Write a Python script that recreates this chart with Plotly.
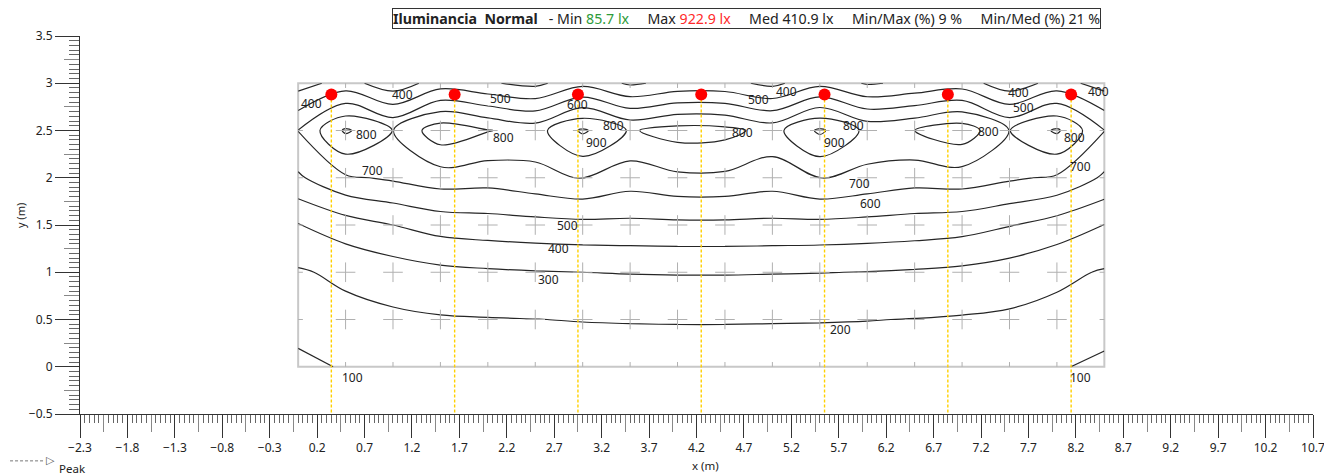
import plotly.graph_objects as go

# ---------------- data ----------------
grid_x = [0.0, 0.5, 1.0, 1.5, 2.0, 2.5, 3.0, 3.5, 4.0, 4.5, 5.0, 5.5, 6.0, 6.5, 7.0, 7.5, 8.0, 8.5]
grid_y = [0.0, 0.5, 1.0, 1.5, 2.0, 2.5, 3.0]

# illuminance (lx) per grid row
lux_y00 = [86, 105, 125, 135, 140, 143, 146, 148, 149, 149, 148, 147, 145, 142, 137, 128, 105, 88]
lux_y05 = [122, 170, 182, 192, 196, 199, 203, 205, 206, 206, 205, 204, 202, 198, 192, 184, 170, 124]
lux_y10 = [190, 220, 250, 275, 287, 295, 300, 304, 306, 306, 304, 302, 298, 290, 278, 255, 222, 192]
lux_y15 = [294, 353, 400, 440, 455, 465, 472, 475, 478, 478, 475, 472, 465, 455, 440, 405, 355, 298]
lux_y20 = [485, 585, 615, 650, 640, 670, 705, 650, 680, 680, 650, 705, 670, 640, 650, 615, 585, 485]
lux_y25 = [602, 815, 698, 865, 805, 760, 915, 790, 840, 830, 762, 918, 775, 800, 862, 698, 815, 602]
lux_y30 = [360, 440, 340, 450, 410, 375, 470, 385, 430, 430, 375, 470, 390, 420, 450, 340, 440, 360]

lum_x = [0.35, 1.65, 2.95, 4.25, 5.55, 6.85, 8.15]
lum_y = 2.88

room_w = 8.5
room_h = 3.0

label_text = ["400", "400", "500", "600", "800", "800", "800", "900", "500", "400", "800", "800", "900",
              "800", "400", "500", "400", "800", "700", "700", "700", "600", "500", "400", "300", "200",
              "100", "100"]
label_x = [0.14, 1.10, 2.13, 2.95, 0.72, 2.16, 3.32, 3.15, 4.85, 5.15, 4.69, 5.85, 5.65,
           7.28, 7.60, 7.65, 8.44, 8.19, 0.78, 5.92, 8.25, 6.03, 2.84, 2.74, 2.64, 5.72,
           0.57, 8.25]
label_y = [2.79, 2.88, 2.84, 2.78, 2.46, 2.43, 2.55, 2.37, 2.83, 2.91, 2.48, 2.55, 2.37,
           2.49, 2.90, 2.74, 2.91, 2.43, 2.08, 1.94, 2.12, 1.73, 1.50, 1.25, 0.92, 0.39,
           -0.11, -0.11]

x_range = [-2.3, 10.7]
y_range = [-0.5, 3.5]

FONT = "Noto Sans"
z = [lux_y00, lux_y05, lux_y10, lux_y15, lux_y20, lux_y25, lux_y30]

fig = go.Figure()

# isolux contours
fig.add_trace(go.Contour(
    x=grid_x, y=grid_y, z=z,
    contours=dict(start=100, end=900, size=100, coloring="none", showlabels=False),
    line=dict(color="#262626", width=1.2, smoothing=1.0),
    showscale=False, hoverinfo="skip",
))

# calculation grid crosses
cx, cy = [], []
for yy in grid_y[1:-1]:
    for xx in grid_x[1:-1]:
        cx.append(xx)
        cy.append(yy)
fig.add_trace(go.Scatter(
    x=cx, y=cy, mode="markers",
    marker=dict(symbol="cross-thin", size=14, line=dict(color="#b0b0b0", width=1)),
    hoverinfo="skip", showlegend=False,
))

# edge half ticks
tl = 0.05
ex, ey = [], []
for xx in grid_x[1:-1]:
    ex += [xx, xx, None, xx, xx, None]
    ey += [0, tl, None, room_h, room_h - tl, None]
for yy in grid_y[1:-1]:
    ex += [0, tl, None, room_w, room_w - tl, None]
    ey += [yy, yy, None, yy, yy, None]
fig.add_trace(go.Scatter(x=ex, y=ey, mode="lines", line=dict(color="#b0b0b0", width=1),
                         hoverinfo="skip", showlegend=False))

# luminaire drop lines
lx, ly = [], []
for xx in lum_x:
    lx += [xx, xx, None]
    ly += [lum_y, y_range[0], None]
fig.add_trace(go.Scatter(x=lx, y=ly, mode="lines",
                         line=dict(color="#FFD000", width=1.4, dash="3px,2px"),
                         hoverinfo="skip", showlegend=False))

# luminaires
fig.add_trace(go.Scatter(x=lum_x, y=[lum_y] * len(lum_x), mode="markers",
                         marker=dict(color="#FF0000", size=12),
                         hoverinfo="skip", showlegend=False))

# invisible trace for the overlay axes (medium ticks)
fig.add_trace(go.Scatter(x=[x_range[0]], y=[y_range[0]], xaxis="x2", yaxis="y2",
                         mode="markers", marker=dict(opacity=0), hoverinfo="skip", showlegend=False))

# room outline
fig.add_shape(type="rect", x0=0, y0=0, x1=room_w, y1=room_h, xref="x", yref="y",
              line=dict(color="#c8c8c8", width=2), layer="below")

# contour labels
for t, xx, yy in zip(label_text, label_x, label_y):
    fig.add_annotation(x=xx, y=yy, xref="x", yref="y", text=t, showarrow=False,
                       font=dict(family=FONT, size=12, color="#222222"))

# header box
nb = "&nbsp;"
header = ("<b>Iluminancia" + nb * 2 + "Normal</b>" + nb * 3 + "-" + nb + "Min" + nb +
          "<span style='color:#2e9b3a'>85.7" + nb + "lx</span>" + nb * 5 + "Max" + nb +
          "<span style='color:#ff2a2a'>922.9" + nb + "lx</span>" + nb * 5 + "Med" + nb + "410.9" + nb + "lx" +
          nb * 5 + "Min/Max" + nb + "(%)" + nb + "9" + nb + "%" + nb * 5 + "Min/Med" + nb + "(%)" + nb +
          "21" + nb + "%")
fig.add_annotation(x=0.5405, y=1.045, xref="paper", yref="paper", text=header, showarrow=False,
                   xanchor="center", yanchor="middle",
                   font=dict(family=FONT, size=14.2, color="#222222"),
                   bordercolor="#333333", borderwidth=1, borderpad=0, bgcolor="white")

# axis titles
fig.add_annotation(x=0.507, y=-0.1375, xref="paper", yref="paper", text="x (m)", showarrow=False,
                   xanchor="center", yanchor="middle",
                   font=dict(family=FONT, size=11.5, color="#222222"))
fig.add_annotation(x=-0.0487, y=0.526, xref="paper", yref="paper", text="y (m)", showarrow=False,
                   xanchor="center", yanchor="middle",
                   textangle=-90, font=dict(family=FONT, size=11, color="#222222"))

# Peak legend
fig.add_shape(type="line", xref="paper", yref="paper", x0=-0.0608, x1=-0.0284, y0=-0.124, y1=-0.124,
              line=dict(color="#777777", width=1, dash="3px,2px"))
fig.add_annotation(x=-0.0243, y=-0.124, xref="paper", yref="paper", text="▷", showarrow=False,
                   xanchor="center", yanchor="middle",
                   font=dict(family="DejaVu Sans", size=11, color="#555555"))
fig.add_annotation(x=-0.0057, y=-0.1429, xref="paper", yref="paper", text="Peak", showarrow=False,
                   xanchor="center", yanchor="middle",
                   font=dict(family=FONT, size=11.5, color="#222222"))

axis_font = dict(family=FONT, size=12, color="#222222")
# the page body adds an 8 px offset; size and margins compensate so the plot area sits
# at the same screen pixels as the reference (x: 80..1313, y: 36..414)
fig.update_layout(
    width=1324, height=467, autosize=False,
    margin=dict(l=72, r=19, t=28, b=61, autoexpand=False),
    paper_bgcolor="white", plot_bgcolor="white",
    showlegend=False,
    xaxis=dict(range=x_range, tick0=-2.3, dtick=0.5, ticks="outside", ticklen=23, tickwidth=1,
               tickcolor="#333333", showline=True, linecolor="#333333", linewidth=1,
               showgrid=False, zeroline=False, tickfont=axis_font, automargin=False,
               minor=dict(tick0=-2.3, dtick=0.05, ticks="outside", ticklen=8, tickcolor="#666666",
                          showgrid=False)),
    yaxis=dict(range=y_range, tick0=-0.5, dtick=0.5, ticks="outside", ticklen=24, tickwidth=1,
               tickcolor="#333333", showline=True, linecolor="#333333", linewidth=1,
               showgrid=False, zeroline=False, tickfont=axis_font, automargin=False,
               minor=dict(tick0=-0.5, dtick=0.05, ticks="outside", ticklen=10, tickcolor="#666666",
                          showgrid=False)),
    xaxis2=dict(range=x_range, overlaying="x", anchor="y", side="bottom", tick0=-2.05, dtick=0.5,
                ticks="outside", ticklen=17, tickcolor="#888888", showticklabels=False,
                showline=False, showgrid=False, zeroline=False, automargin=False),
    yaxis2=dict(range=y_range, overlaying="y", anchor="x", side="left", tick0=-0.25, dtick=0.5,
                ticks="outside", ticklen=15, tickcolor="#888888", showticklabels=False,
                showline=False, showgrid=False, zeroline=False, automargin=False),
)

fig.write_html("out.html")
